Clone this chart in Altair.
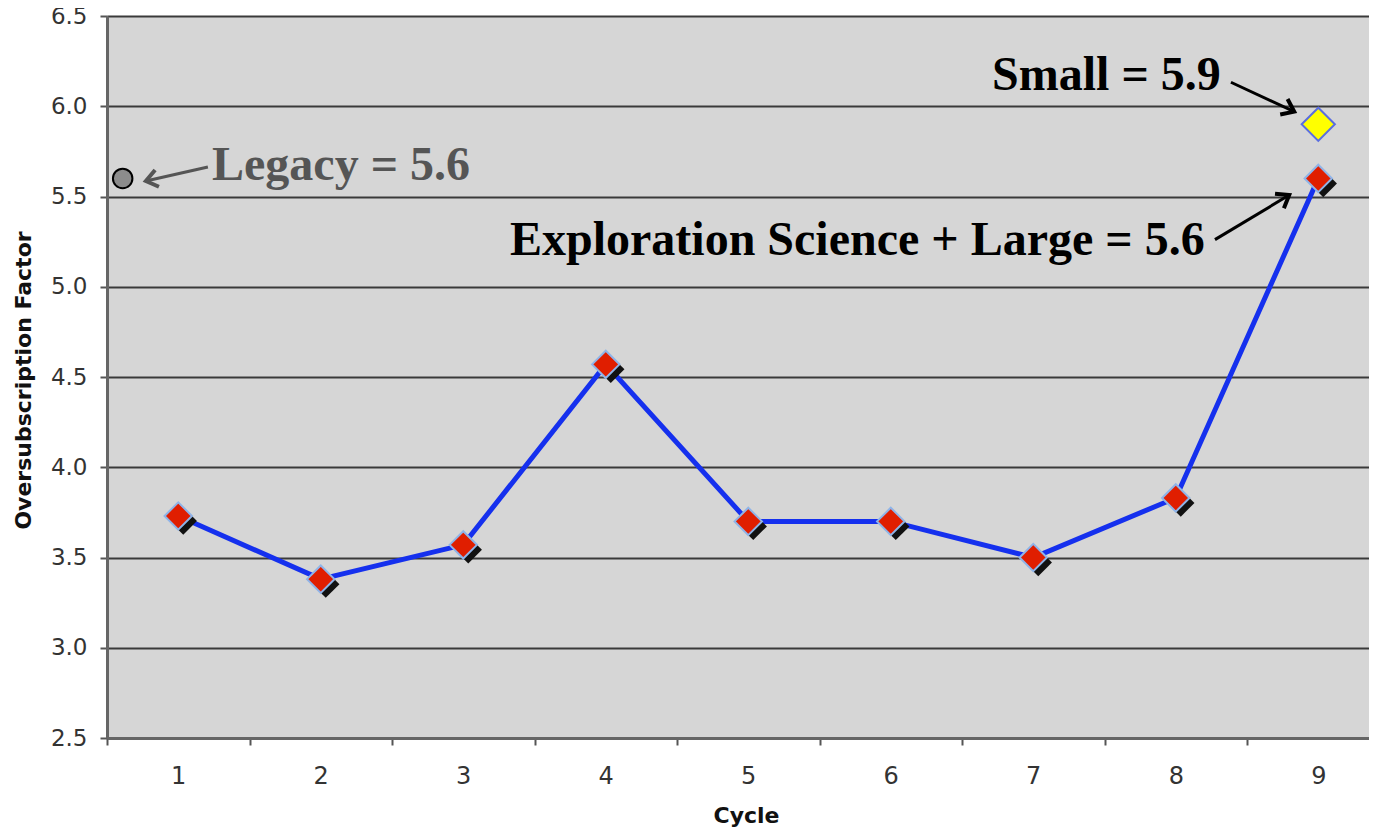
import altair as alt
import pandas as pd

# ---- data ----
cycles = [1, 2, 3, 4, 5, 6, 7, 8, 9]
factors = [3.73, 3.38, 3.57, 4.57, 3.70, 3.70, 3.50, 3.83, 5.60]

small_cycle = [9]
small_value = [5.9]

legacy_cycle = [0.61]
legacy_value = [5.6]

y_ticks = [2.5, 3.0, 3.5, 4.0, 4.5, 5.0, 5.5, 6.0, 6.5]

note_text = ["Legacy = 5.6", "Small = 5.9", "Exploration Science + Large = 5.6"]
note_x = [1.237, 6.711, 3.328]
note_y = [5.591, 6.090, 5.176]
note_color = ["#555555", "#000000", "#000000"]

arrow_x = [1.208, 8.387, 8.275]
arrow_y = [5.663, 6.133, 5.261]
arrow_x2 = [0.773, 8.831, 8.796]
arrow_y2 = [5.586, 5.970, 5.508]
arrow_angle = [167, 25.5, 328.7]
arrow_color = ["#555555", "#000000", "#000000"]

# ---- tables ----
main_df = pd.DataFrame({"x": cycles, "y": factors})
small_df = pd.DataFrame({"x": small_cycle, "y": small_value})
legacy_df = pd.DataFrame({"x": legacy_cycle, "y": legacy_value})
note_df = pd.DataFrame({"x": note_x, "y": note_y, "t": note_text, "c": note_color})
arrow_df = pd.DataFrame({"x": arrow_x, "y": arrow_y, "x2": arrow_x2, "y2": arrow_y2,
                         "a": arrow_angle, "c": arrow_color})
head_df = pd.DataFrame({"x": arrow_x2, "y": arrow_y2, "a": arrow_angle, "c": arrow_color})

xs = alt.Scale(domain=[0.5, 9.356], nice=False, zero=False)
ys = alt.Scale(domain=[2.5, 6.5], nice=False, zero=False)

xaxis = alt.Axis(values=cycles, title="Cycle", grid=False,
                 tickOffset=-71.25, labelOffset=71.25,
                 tickSize=7, tickColor="#555555", tickWidth=2,
                 domainColor="#666666", domainWidth=3,
                 labelFont="DejaVu Sans", labelFontSize=24, labelColor="#333333",
                 labelPadding=19, labelFlush=False,
                 titleFont="DejaVu Sans", titleFontSize=22, titleFontWeight="bold",
                 titleColor="#111111", titleX=639, titleY=84, titleBaseline="alphabetic")
yaxis = alt.Axis(values=y_ticks, format=".1f", title="Oversubscription Factor",
                 grid=True, gridColor="#3a3a3a", gridWidth=2,
                 tickSize=7, tickColor="#555555", tickWidth=2,
                 domainColor="#666666", domainWidth=3,
                 labelFont="DejaVu Sans", labelFontSize=23, labelColor="#333333",
                 labelPadding=13, labelFlush=False,
                 titleFont="DejaVu Sans", titleFontSize=22, titleFontWeight="bold",
                 titleColor="#111111", titleX=-84, titleY=364,
                 titleBaseline="middle", titleAlign="center", titleAngle=270)

X = alt.X("x:Q", scale=xs, axis=xaxis)
Y = alt.Y("y:Q", scale=ys, axis=yaxis)

line = alt.Chart(main_df).mark_line(color="#1530ee", strokeWidth=5).encode(x=X, y=Y)

shadow = alt.Chart(main_df).mark_point(
    shape="diamond", filled=True, color="#111111", size=750, opacity=1,
    xOffset=5, yOffset=5).encode(x=X, y=Y)

red = alt.Chart(main_df).mark_point(
    shape="diamond", filled=True, fill="#e01e00", stroke="#8fb4e8",
    strokeWidth=2, size=750, opacity=1).encode(x=X, y=Y)

yellow = alt.Chart(small_df).mark_point(
    shape="diamond", filled=True, fill="#ffff00", stroke="#5a6ee0",
    strokeWidth=2, size=1100, opacity=1).encode(x=X, y=Y)

legacy = alt.Chart(legacy_df).mark_point(
    shape="circle", filled=True, fill="#8c8c8c", stroke="#000000",
    strokeWidth=2, size=380, opacity=1).encode(x=X, y=Y)

shafts = alt.Chart(arrow_df).mark_rule(strokeWidth=3).encode(
    x=X, y=Y, x2="x2:Q", y2="y2:Q",
    color=alt.Color("c:N", scale=None))

heads = alt.Chart(head_df).mark_point(
    shape="M-1,-0.75L0,0L-1,0.75", filled=False, strokeWidth=4, size=520,
    opacity=1, strokeJoin="miter").encode(
    x=X, y=Y,
    angle=alt.Angle("a:Q", scale=None),
    stroke=alt.Stroke("c:N", scale=None))

notes = alt.Chart(note_df).mark_text(
    font="Liberation Serif", fontSize=48, fontWeight="bold",
    align="left", baseline="alphabetic").encode(
    x=X, y=Y, text="t:N", color=alt.Color("c:N", scale=None))

chart = alt.layer(line, shadow, red, yellow, legacy, shafts, heads, notes).properties(
    width=1262, height=722,
    background="#ffffff",
    autosize=alt.AutoSizeParams(type="none"),
    padding={"left": 99, "top": 8, "right": 0, "bottom": 89},
).configure_view(fill="#d6d6d6", strokeWidth=0)

chart.save("out.html", embed_options={"renderer": "svg", "actions": False})
